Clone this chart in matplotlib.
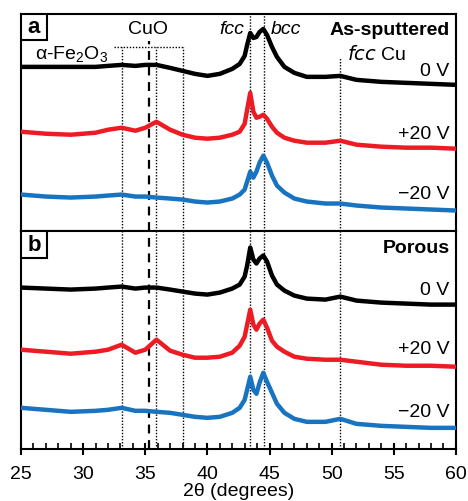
import matplotlib.pyplot as plt
from matplotlib.patches import Rectangle
from matplotlib.ticker import MultipleLocator

plt.rcParams['font.family'] = ['Liberation Sans', 'DejaVu Sans']

two_theta = [25, 27, 29, 31, 32, 33.1, 34.2, 35, 35.9, 37, 38, 39, 40, 41, 42,
             42.6, 43.0, 43.2, 43.45, 43.7, 43.95, 44.2, 44.5, 44.8, 45.2, 45.6,
             46.2, 47, 48, 49.5, 50.7, 52, 54, 56, 58, 60]

# (a) as-sputtered, stacked intensity (a.u.)
a_0V = [165, 165, 165, 165, 166, 167, 166, 167, 167, 164, 161, 158, 156, 158, 163,
        168, 176, 187, 199, 194, 195, 200, 203, 197, 185, 175,
        165, 159, 155, 155, 156, 152, 150, 149, 148, 147]
a_p20V = [100, 98, 97, 99, 102, 104, 101, 104, 110, 102, 97, 94, 93, 94, 97,
          100, 108, 122, 139, 120, 114, 115, 117, 113, 105, 99,
          94, 91, 89, 89, 91, 87, 85, 84, 84, 83]
a_m20V = [37, 35, 34, 35, 36, 37, 35, 35, 34, 33, 32, 30, 29, 30, 33,
          37, 42, 50, 60, 54, 60, 69, 76, 69, 56, 46,
          39, 33, 30, 28, 28, 26, 24, 23, 22, 21]

# (b) porous
b_0V = [161, 160, 159, 160, 161, 162, 160, 161, 161, 159, 157, 155, 154, 156, 160,
        164, 172, 183, 201, 189, 185, 190, 193, 187, 173, 164,
        158, 153, 150, 149, 152, 148, 146, 145, 144, 144]
b_p20V = [99, 97, 95, 97, 99, 104, 96, 99, 109, 98, 94, 91, 91, 92, 96,
          103, 112, 124, 139, 124, 119, 125, 129, 121, 108, 102,
          97, 92, 90, 89, 89, 87, 84, 83, 83, 82]
b_m20V = [41, 39, 37, 38, 39, 41, 38, 38, 37, 36, 34, 32, 31, 32, 36,
          41, 49, 59, 72, 59, 55, 66, 76, 67, 56, 45,
          36, 30, 27, 27, 30, 25, 23, 22, 21, 21]

bias_labels = ['0 V', '+20 V', '\u221220 V']
colors = ['black', '#ed1c24', '#1874c0']

fe2o3_lines = [33.1, 35.9, 38.0]
cuo_line = 35.3
fcc_line, bcc_line = 43.4, 44.55
cu_line = 50.7

FS = 14

fig, (ax1, ax2) = plt.subplots(2, 1, figsize=(4.68, 5.01), dpi=100, sharex=True)
fig.subplots_adjust(left=0.045, right=0.974, top=0.972, bottom=0.104, hspace=0)

panels = [(ax1, [a_0V, a_p20V, a_m20V], 'a', 'As-sputtered', [160, 97, 37], 218),
          (ax2, [b_0V, b_p20V, b_m20V], 'b', 'Porous', [158, 99, 36], 217)]

for ax, traces, letter, title, label_y, ytop in panels:
    ax.set_ylim(0, ytop)
    ax.set_xlim(25, 60)
    ax.set_yticks([])
    for s in ax.spines.values():
        s.set_linewidth(1.5)
    for ys, c in zip(traces, colors):
        ax.plot(two_theta, ys, color=c, lw=3.2, zorder=3)
    for lbl, yy in zip(bias_labels, label_y):
        ax.text(59.5, yy, lbl, ha='right', va='center', fontsize=FS, zorder=4)
    ax.text(59.5, ytop - 17, title, ha='right', va='center', fontsize=FS,
            fontweight='bold', zorder=4)
    ax.add_patch(Rectangle((0, 1 - 26 / ytop), 26 / 435, 26 / ytop, transform=ax.transAxes,
                           fc='white', ec='black', lw=1.5, zorder=5))
    ax.text(13 / 435, 1 - 14 / ytop, letter, transform=ax.transAxes, ha='center',
            va='center', fontsize=16, fontweight='bold', zorder=6)

# reference lines, panel a
top_fe = 184.5
for x in fe2o3_lines:
    ax1.plot([x, x], [0, top_fe], ls=(0, (1, 1.2)), color='black', lw=1, zorder=1)
ax1.plot([32.5, 38.0], [top_fe, top_fe], ls=(0, (1, 1.2)), color='black', lw=1, zorder=1)
ax1.plot([cuo_line, cuo_line], [0, 191], ls=(0, (4, 3)), color='black', lw=1.6, zorder=1)
for x in [fcc_line, bcc_line]:
    ax1.axvline(x, ls=(0, (1, 1.2)), color='black', lw=1, zorder=1)
ax1.plot([cu_line, cu_line], [0, 175], ls=(0, (1, 1.2)), color='black', lw=1, zorder=1)

ax1.text(35.2, 202, 'CuO', ha='center', va='center', fontsize=FS)
ax1.text(29.1, 177, r'$\mathregular{\alpha}$-Fe$_\mathregular{2}$O$_\mathregular{3}$',
         ha='center', va='center', fontsize=FS)
ax1.text(43.0, 202, 'fcc', ha='right', va='center', fontsize=FS, style='italic')
ax1.text(45.1, 202, 'bcc', ha='left', va='center', fontsize=FS, style='italic')
ax1.text(51.2, 177, r'$\mathit{fcc}$ Cu', ha='left', va='center', fontsize=FS)

# reference lines, panel b
for x in fe2o3_lines + [fcc_line, bcc_line, cu_line]:
    ax2.axvline(x, ls=(0, (1, 1.2)), color='black', lw=1, zorder=1)
ax2.axvline(cuo_line, ls=(0, (4, 3)), color='black', lw=1.6, zorder=1)

ax1.tick_params(axis='x', which='both', bottom=False, labelbottom=False)
ax2.xaxis.set_major_locator(MultipleLocator(5))
ax2.xaxis.set_minor_locator(MultipleLocator(1))
ax2.tick_params(axis='x', which='major', direction='inout', length=8, width=1.5,
                labelsize=FS, pad=8)
ax2.tick_params(axis='x', which='minor', direction='in', length=4, width=1.2)
ax2.set_xlabel('2\u03b8 (degrees)', fontsize=FS, labelpad=0)

fig.savefig('out.png', dpi=100)
